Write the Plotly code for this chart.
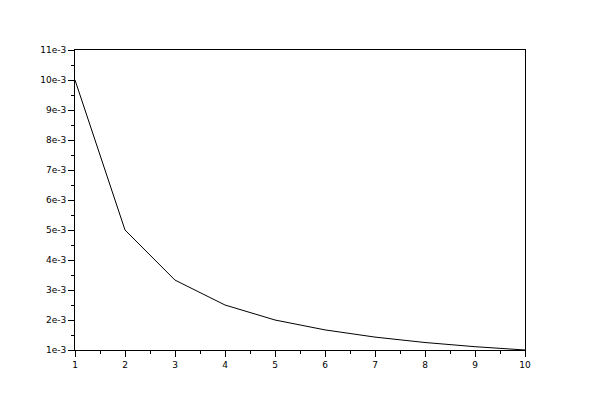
import plotly.graph_objects as go

x_values = [1, 2, 3, 4, 5, 6, 7, 8, 9, 10]
y_values = [0.01, 0.005, 0.00333, 0.0025, 0.002, 0.00167, 0.00143, 0.00125, 0.00111, 0.001]

x_ticks = [1, 2, 3, 4, 5, 6, 7, 8, 9, 10]
y_ticks = [0.001, 0.002, 0.003, 0.004, 0.005, 0.006, 0.007, 0.008, 0.009, 0.010, 0.011]
y_ticklabels = ["1e-3", "2e-3", "3e-3", "4e-3", "5e-3", "6e-3", "7e-3", "8e-3", "9e-3", "10e-3", "11e-3"]

fig = go.Figure()
fig.add_trace(go.Scatter(x=x_values, y=y_values, mode="lines",
                         line=dict(color="black", width=1), showlegend=False))

axis_common = dict(
    showgrid=False, zeroline=False, showline=True, linecolor="black", linewidth=1,
    mirror=True, ticks="outside", ticklen=6, tickwidth=1, tickcolor="black",
    tickfont=dict(family="DejaVu Sans", size=9, color="black"),
)

fig.update_xaxes(range=[1, 10], tickvals=x_ticks, ticktext=[str(v) for v in x_ticks],
                 minor=dict(ticks="outside", ticklen=3, dtick=0.5, tickcolor="black", tick0=1),
                 **axis_common)
fig.update_yaxes(range=[0.001, 0.011], tickvals=y_ticks, ticktext=y_ticklabels,
                 minor=dict(ticks="outside", ticklen=3, dtick=0.0005, tickcolor="black", tick0=0.001),
                 **axis_common)

fig.update_layout(width=600, height=400, margin=dict(l=67, r=83, t=42, b=58),
                  plot_bgcolor="white", paper_bgcolor="white")
fig.write_html("out.html")
